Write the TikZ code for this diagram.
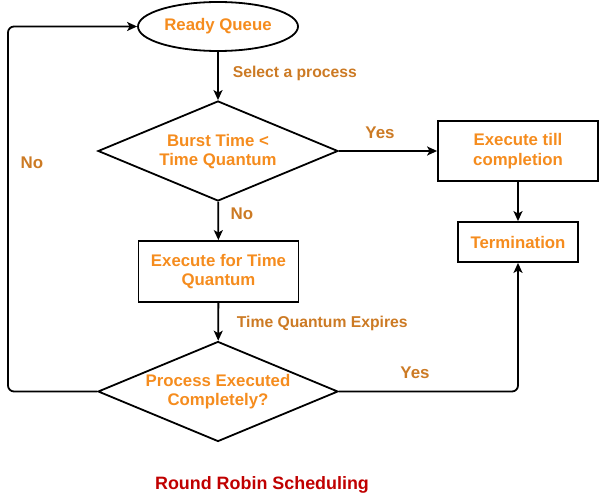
\documentclass[tikz,border=0pt]{standalone}
\usepackage{fontspec}
\setmainfont{Liberation Sans}
\usetikzlibrary{shapes.geometric,arrows.meta}
\definecolor{nodeorange}{RGB}{245,140,30}
\definecolor{labelorange}{RGB}{204,122,36}
\definecolor{titlered}{RGB}{192,0,0}
\begin{document}
\begin{tikzpicture}[x=1pt,y=-1pt,
  line width=1.8pt,
  nodetext/.style={font=\fontsize{16.8}{19.5}\selectfont\bfseries, text=nodeorange, align=center, inner sep=0pt},
  procbox/.style={draw, rectangle, inner sep=0pt, nodetext},
  decbox/.style={draw, diamond, inner sep=0pt, minimum width=240pt, minimum height=100pt, shape aspect=2.4},
  ellbox/.style={draw, ellipse, inner sep=0pt, minimum width=160pt, minimum height=49pt, nodetext},
  edgelbl/.style={font=\fontsize{15.7}{18}\selectfont\bfseries, text=labelorange, inner sep=0pt},
  yesno/.style={font=\fontsize{16.9}{19}\selectfont\bfseries, text=labelorange, inner sep=0pt},
  conn/.style={-{Stealth[length=10pt,width=9pt,inset=2.5pt]}, rounded corners=6pt}
]
\useasboundingbox (0,0) rectangle (599,494);

\node[ellbox] (rq) at (218,26.5) {Ready Queue};
\node[decbox] (d1) at (218,151) {};
\node[nodetext] (d1t) at (218,151.5) {Burst Time <\\Time Quantum};
\node[procbox, minimum width=160pt, minimum height=60pt] (exc) at (518,151) {Execute till\\completion};
\node[procbox, minimum width=120pt, minimum height=40pt] (term) at (518,242) {Termination};
\node[procbox, minimum width=160pt, minimum height=61pt] (eft) at (218.5,271.5) {Execute for Time\\Quantum};
\node[decbox] (d2) at (218,391.5) {};
\node[nodetext] (d2t) at (218,391.5) {Process Executed\\Completely?};

\coordinate (lc1) at (8,391.5);
\coordinate (lc2) at (8,26.5);
\coordinate (rc1) at (518,391.5);

\draw[conn] (rq) -- (d1);
\draw[conn] (d1) -- (exc);
\draw[conn] (d1) -- (eft);
\draw[conn] (exc) -- (term);
\draw[conn] (eft) -- (d2);
\draw[conn] (d2.west) -- (lc1) -- (lc2) -- (rq.west);
\draw[conn] (d2.east) -- (rc1) -- (term.south);

\node[edgelbl, anchor=west] (l1) at (232,73) {Select a process};
\node[edgelbl, anchor=west] (l2) at (236,323.5) {Time Quantum Expires};
\node[yesno] (y1) at (380,133) {Yes};
\node[yesno] (n1) at (242,214) {No};
\node[yesno] (n2) at (32,163) {No};
\node[yesno] (y2) at (415,373) {Yes};
\node[font=\fontsize{17.9}{20}\selectfont\bfseries, text=titlered, inner sep=0pt] (title) at (262,485) {Round Robin Scheduling};
\end{tikzpicture}
\end{document}
